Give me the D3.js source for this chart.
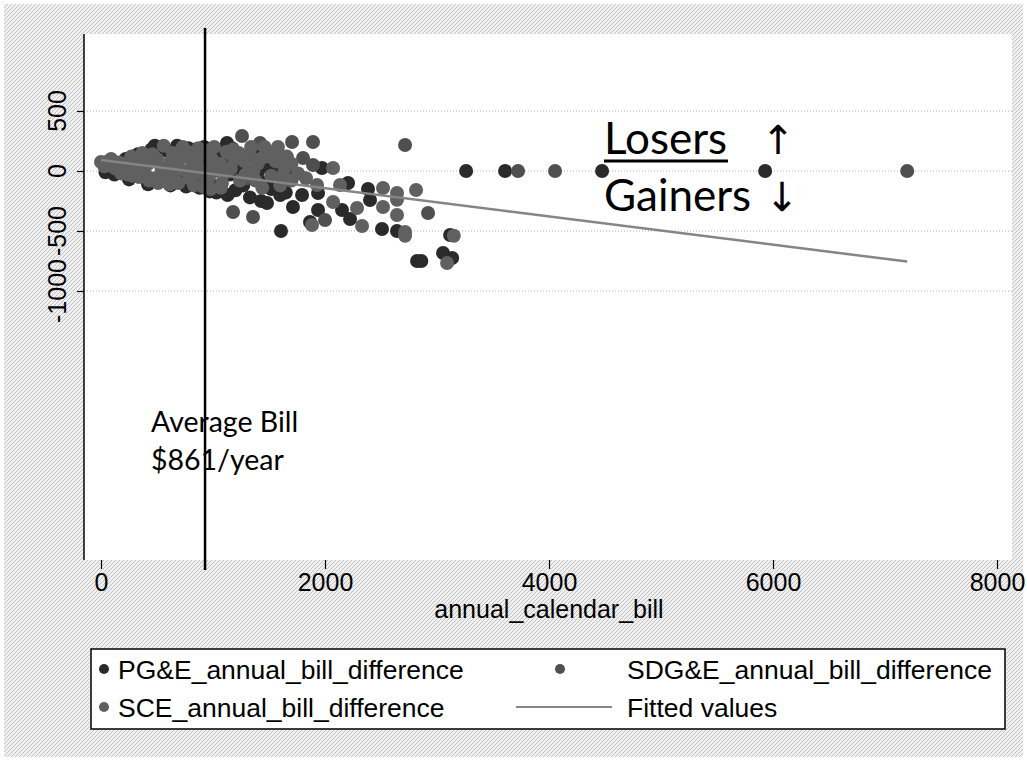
<!DOCTYPE html>
<html><head><meta charset="utf-8">
<script src="https://cdn.jsdelivr.net/npm/d3@7"></script>
<style>html,body{margin:0;padding:0;background:#fff}svg{display:block}</style>
</head><body>
<svg id="chart" width="1027" height="761"></svg>
<script>
// ---- data ----
const xTicks = [0, 2000, 4000, 6000, 8000];
const yTicks = [-1000, -500, 0, 500];
const xTitle = "annual_calendar_bill";
const seriesNames = ["PG&E_annual_bill_difference", "SDG&E_annual_bill_difference", "SCE_annual_bill_difference", "Fitted values"];

const pgeX = [40,150,220,300,380,450,520,560,600,660,700,740,800,850,900,950,1000,1050,1125,1150,1200,1250,1300,1350,1400,1450,1500,1550,1600,
  120,250,330,420,480,540,620,680,760,780,840,880,920,970,1030,1080,1130,1170,1270,1330,1380,1430,1470,1520,1650,
  1607,1688,1482,1714,1795,1866,1938,1938,1973,2152,2206,2224,2384,2402,2509,2643,2822,2860,3054,3117,3135,1560,
  3260,3608,4474,5930];
const pgeY = [-10,60,100,90,120,180,-60,170,-40,180,100,-80,150,-100,-70,60,-120,130,233,-30,-160,20,-50,160,-10,-100,30,-60,-200,
  -30,-70,140,-110,210,200,-120,210,-130,190,180,-140,200,-170,-180,180,-200,190,-120,-220,100,-250,180,-150,-180,
  -500,8,-267,-300,-200,-425,-183,-325,25,-325,-100,-400,-150,-242,-483,-500,-750,-750,-683,-533,-725,-20,
  0,0,0,0];

const sdgX = [1259,1706,1893,2715,1420,3724,4054,7198,1179,1357,2920,2000,1804,1893,1100,1300];
const sdgY = [292,242,242,217,233,0,0,0,-342,-383,-350,-408,108,50,60,-60];

const sceX = [0,60,100,130,180,200,260,280,320,350,400,420,480,500,540,580,620,650,680,720,760,790,820,860,880,920,960,990,1020,1060,1080,1120,1160,1200,1240,1280,1320,1360,1400,1440,1480,1520,1560,1600,1640,1700,
  30,90,160,240,270,340,370,430,460,510,560,610,640,690,730,770,830,870,910,940,980,1010,1070,1110,1180,1230,1290,1340,1380,1420,1460,1540,1580,1620,1660,
  2072,2134,1929,2072,2286,2331,2518,2643,2643,2518,2643,2715,2715,2813,3090,3150,1884,1625,1500,1700,1760,1830];
const sceY = [75,80,40,20,-20,60,10,-40,30,90,-30,60,-60,100,20,-20,80,-50,40,110,0,-60,60,120,-20,30,-60,100,0,60,-100,160,20,100,-80,80,140,0,60,-140,120,-40,80,-120,20,-80,
  40,100,70,-30,120,-50,150,-80,140,-100,210,-110,150,-100,200,160,-120,190,-130,170,-150,200,-140,-10,180,150,-30,200,-80,100,200,150,200,-40,120,
  25,-117,-117,-258,-308,-458,-142,-183,-240,-300,-367,-508,-540,-158,-767,-540,-450,117,150,60,-20,-60];

const fitX = [0, 7198];
const fitY = [92, -755];

const avgBillX = 929;
const avgLabel = ["Average Bill", "$861/year"];

// ---- layout ----
const svg = d3.select("#chart");
const W = 1027, H = 761;
const plot = {l: 84, r: 1012, t: 34, b: 560};
const x = d3.scaleLinear().domain([0, 8000]).range([101, 997]);
const y = d3.scaleLinear().domain([-1000, 500]).range([291, 111]);

const defs = svg.append("defs");
const pat = defs.append("pattern").attr("id", "hatch").attr("patternUnits", "userSpaceOnUse")
  .attr("width", 4).attr("height", 4);
pat.append("rect").attr("width", 4).attr("height", 4).attr("fill", "#f0f0f0");
pat.append("path").attr("d", "M0,4 L4,0 M-1,1 L1,-1 M3,5 L5,3").attr("stroke", "#c2c2c2").attr("stroke-width", 1);

svg.append("rect").attr("x", 4).attr("y", 4).attr("width", W - 8).attr("height", H - 8).attr("fill", "url(#hatch)");
svg.append("rect").attr("x", plot.l).attr("y", plot.t).attr("width", plot.r - plot.l).attr("height", plot.b - plot.t).attr("fill", "#fff");

// gridlines
svg.append("g").selectAll("line").data(yTicks).join("line")
  .attr("x1", plot.l).attr("x2", plot.r).attr("y1", d => y(d)).attr("y2", d => y(d))
  .attr("stroke", "#b0b0b0").attr("stroke-width", 1).attr("stroke-dasharray", "1,2");

// y axis
const yAxis = svg.append("g").attr("transform", `translate(${plot.l},0)`)
  .call(d3.axisLeft(y).tickValues(yTicks).tickSize(7).tickFormat(d3.format("d")));
yAxis.select(".domain").remove();
yAxis.selectAll(".tick line").attr("stroke", "#000").attr("stroke-width", 1.2);
yAxis.selectAll(".tick text").remove();
svg.append("line").attr("x1", plot.l).attr("x2", plot.l).attr("y1", plot.t).attr("y2", plot.b).attr("stroke", "#000").attr("stroke-width", 1.5);
svg.append("g").selectAll("text").data(yTicks).join("text")
  .attr("transform", d => `translate(57,${y(d)}) rotate(-90)`)
  .attr("text-anchor", "middle").attr("dominant-baseline", "central")
  .attr("font-family", "Liberation Sans, Arial, sans-serif").attr("font-size", 25).attr("fill", "#000")
  .text(d => d);

// x axis
const xAxis = svg.append("g").attr("transform", `translate(0,${plot.b})`)
  .call(d3.axisBottom(x).tickValues(xTicks).tickSize(9).tickFormat(d3.format("d")));
xAxis.select(".domain").remove();
xAxis.selectAll(".tick line").attr("stroke", "#000").attr("stroke-width", 1.2);
xAxis.selectAll(".tick text").attr("y", 31).attr("dy", 0)
  .attr("font-family", "Liberation Sans, Arial, sans-serif").attr("font-size", 25).attr("fill", "#000");
svg.append("text").attr("x", x(4000)).attr("y", 618).attr("text-anchor", "middle")
  .attr("font-family", "Liberation Sans, Arial, sans-serif").attr("font-size", 25).text(xTitle);

// scatter
function drawSeries(xs, ys, color) {
  svg.append("g").selectAll("circle").data(xs.map((d, i) => [d, ys[i]])).join("circle")
    .attr("cx", d => x(d[0])).attr("cy", d => y(d[1])).attr("r", 7).attr("fill", color);
}
const cPGE = "#2a2a2a", cSDG = "#4f4f4f", cSCE = "#606060", cFit = "#858585";
drawSeries(pgeX, pgeY, cPGE);
drawSeries(sdgX, sdgY, cSDG);
drawSeries(sceX, sceY, cSCE);

// fitted line
svg.append("path").datum(fitX.map((d, i) => [d, fitY[i]]))
  .attr("d", d3.line().x(d => x(d[0])).y(d => y(d[1])))
  .attr("stroke", cFit).attr("stroke-width", 2.5).attr("fill", "none");

// average bill line
svg.append("line").attr("x1", x(avgBillX)).attr("x2", x(avgBillX)).attr("y1", 28).attr("y2", 570)
  .attr("stroke", "#000").attr("stroke-width", 2.5);

const annFont = "Lato, Carlito, 'Open Sans', sans-serif";
svg.append("text").attr("x", 151).attr("y", 432).attr("font-family", annFont).attr("font-size", 28.5).text(avgLabel[0]);
svg.append("text").attr("x", 151).attr("y", 470).attr("font-family", annFont).attr("font-size", 28.5).text(avgLabel[1]);

// Losers / Gainers
svg.append("text").attr("x", 604).attr("y", 154).attr("font-family", annFont).attr("font-size", 44).text("Losers");
svg.append("line").attr("x1", 604).attr("x2", 728).attr("y1", 161).attr("y2", 161).attr("stroke", "#000").attr("stroke-width", 3);
svg.append("text").attr("x", 778).attr("y", 154).attr("text-anchor", "middle").attr("font-family", "DejaVu Sans, sans-serif").attr("font-size", 40).text("↑");
svg.append("text").attr("x", 604).attr("y", 211).attr("font-family", annFont).attr("font-size", 44).text("Gainers");
svg.append("text").attr("x", 782).attr("y", 211).attr("text-anchor", "middle").attr("font-family", "DejaVu Sans, sans-serif").attr("font-size", 40).text("↓");

// legend
const lg = svg.append("g");
lg.append("rect").attr("x", 91).attr("y", 649).attr("width", 914).attr("height", 80)
  .attr("fill", "#fff").attr("stroke", "#000").attr("stroke-width", 1.5);
const legendItems = [
  {name: seriesNames[0], type: "dot", color: cPGE, mx: 104, tx: 118, yy: 669},
  {name: seriesNames[1], type: "dot", color: cSDG, mx: 560, tx: 627, yy: 669},
  {name: seriesNames[2], type: "dot", color: cSCE, mx: 104, tx: 118, yy: 707},
  {name: seriesNames[3], type: "line", color: cFit, mx: 564, tx: 627, yy: 707}
];
legendItems.forEach(it => {
  if (it.type === "dot") lg.append("circle").attr("cx", it.mx).attr("cy", it.yy).attr("r", 5).attr("fill", it.color);
  else lg.append("line").attr("x1", 516).attr("x2", 612).attr("y1", it.yy).attr("y2", it.yy).attr("stroke", it.color).attr("stroke-width", 2);
  lg.append("text").attr("x", it.tx).attr("y", it.yy + 9.5).attr("font-family", "Liberation Sans, Arial, sans-serif")
    .attr("font-size", 26.5).text(it.name);
});
</script>
</body></html>
